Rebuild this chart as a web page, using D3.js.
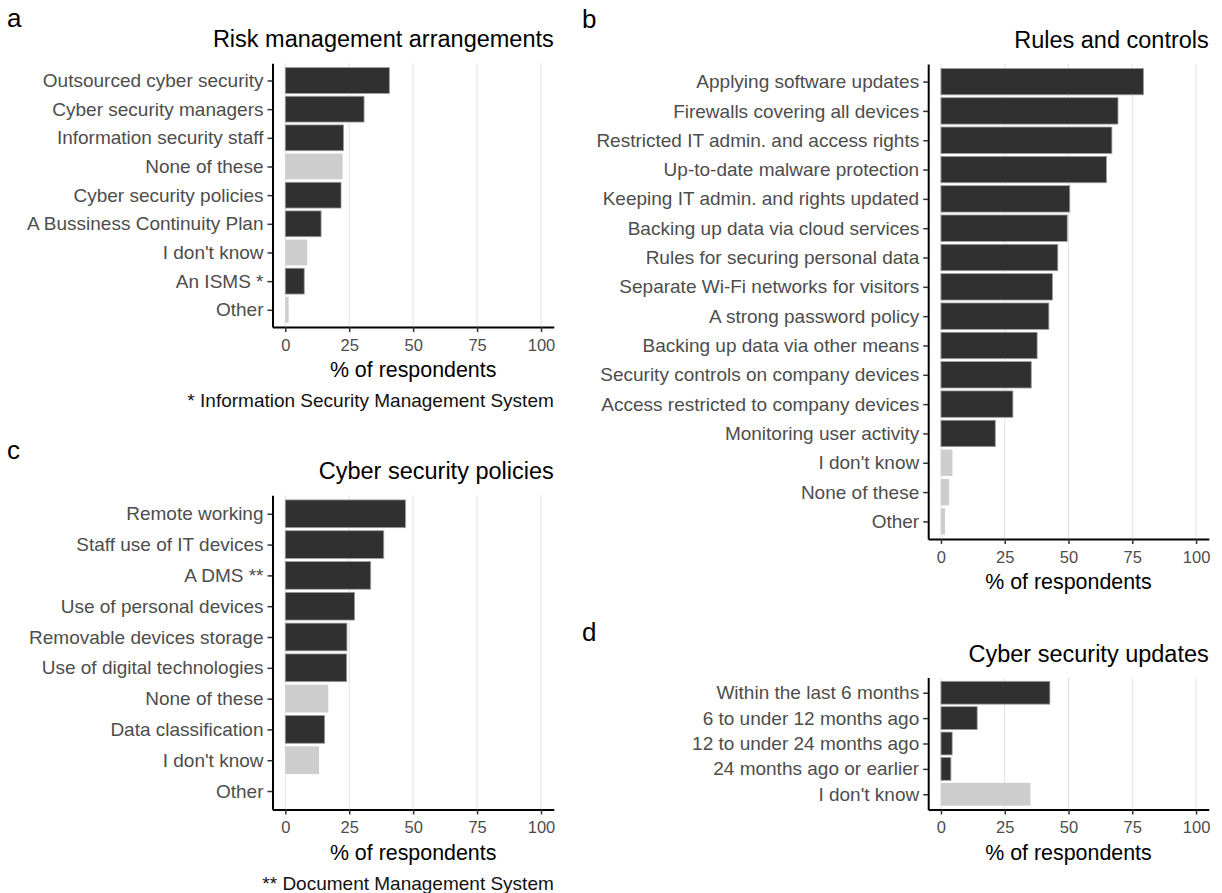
<!DOCTYPE html>
<html>
<head>
<meta charset="utf-8">
<script src="https://cdn.jsdelivr.net/npm/d3@7"></script>
<style>
  body { margin: 0; background: #fff; }
  svg text { font-family: "Liberation Sans", Arial, Helvetica, sans-serif; }
</style>
</head>
<body>
<svg id="chart" width="1222" height="893"></svg>
<script>
// values, % of respondents
const riskCategories = ['Outsourced cyber security', 'Cyber security managers', 'Information security staff',
  'None of these', 'Cyber security policies', 'A Bussiness Continuity Plan', "I don't know", 'An ISMS *', 'Other']
const riskValues = [40.7, 30.8, 22.8, 22.4, 21.8, 14.0, 8.6, 7.4, 1.3]

const rulesCategories = ['Applying software updates', 'Firewalls covering all devices',
  'Restricted IT admin. and access rights', 'Up-to-date malware protection', 'Keeping IT admin. and rights updated',
  'Backing up data via cloud services', 'Rules for securing personal data', 'Separate Wi-Fi networks for visitors',
  'A strong password policy', 'Backing up data via other means', 'Security controls on company devices',
  'Access restricted to company devices', 'Monitoring user activity', "I don't know", 'None of these', 'Other']
const rulesValues = [79.4, 69.4, 67.0, 64.9, 50.5, 49.5, 45.8, 43.7, 42.3, 37.7, 35.4, 28.2, 21.3, 4.5, 3.2, 1.6]

const policyCategories = ['Remote working', 'Staff use of IT devices', 'A DMS **', 'Use of personal devices',
  'Removable devices storage', 'Use of digital technologies', 'None of these', 'Data classification',
  "I don't know", 'Other']
const policyValues = [47.0, 38.5, 33.4, 27.1, 24.1, 24.0, 16.8, 15.4, 13.2, 0]

const updateCategories = ['Within the last 6 months', '6 to under 12 months ago', '12 to under 24 months ago',
  '24 months ago or earlier', "I don't know"]
const updateValues = [42.7, 14.2, 4.4, 3.9, 35.1]

// answers drawn in light grey
const neutralAnswers = ['None of these', "I don't know", 'Other']
const xTicks = [0, 25, 50, 75, 100]

const svg = d3.select('#chart')

const drawPanel = ({tag, title, categories, values, left, right, top, bottom, note}) => {
  const g = svg.append('g')
  const x = d3.scaleLinear().domain([-5, 105]).range([left, right])
  const y = d3.scalePoint().domain(categories).range([top, bottom]).padding(0.6)
  const barH = y.step() * 0.9
  const rows = categories.map((label, i) => ({label, value: values[i]}))

  g.selectAll('line.grid').data(xTicks).join('line')
    .attr('class', 'grid')
    .attr('x1', d => x(d)).attr('x2', d => x(d))
    .attr('y1', top).attr('y2', bottom)
    .attr('stroke', '#e2e2e2').attr('stroke-width', 1)

  g.selectAll('rect.bar').data(rows).join('rect')
    .attr('class', 'bar')
    .attr('x', x(0))
    .attr('y', d => y(d.label) - barH / 2)
    .attr('width', d => x(d.value) - x(0))
    .attr('height', barH)
    .attr('fill', d => neutralAnswers.includes(d.label) ? '#cdcdcd' : '#303030')
    .attr('stroke', d => neutralAnswers.includes(d.label) ? 'none' : '#9e9e9e')
    .attr('stroke-width', 0.8)

  const xAxis = g.append('g').attr('transform', `translate(0,${bottom})`)
    .call(d3.axisBottom(x).tickValues(xTicks).tickSize(5).tickSizeOuter(0).tickPadding(7))
  const yAxis = g.append('g').attr('transform', `translate(${left},0)`)
    .call(d3.axisLeft(y).tickSize(5).tickSizeOuter(0).tickPadding(4))

  ;[xAxis, yAxis].forEach(a => {
    a.attr('font-family', null)
    a.select('.domain').attr('stroke', '#000').attr('stroke-width', 2)
    a.selectAll('.tick line').attr('stroke', '#333').attr('stroke-width', 1.5)
    a.selectAll('.tick text').attr('fill', '#4d4d4d')
  })
  xAxis.attr('font-size', 16.5)
  yAxis.attr('font-size', 19)

  g.append('text')
    .attr('x', (left + right) / 2).attr('y', bottom + 50)
    .attr('text-anchor', 'middle').attr('font-size', 21.4).attr('fill', '#000')
    .text('% of respondents')

  g.append('text')
    .attr('x', right).attr('y', top - 16)
    .attr('text-anchor', 'end').attr('font-size', 23.5).attr('fill', '#000')
    .text(title)

  g.append('text')
    .attr('x', tag.x).attr('y', top - 36.5)
    .attr('font-size', 26).attr('fill', '#000')
    .text(tag.text)

  if (note) {
    g.append('text')
      .attr('x', right).attr('y', bottom + 80)
      .attr('text-anchor', 'end').attr('font-size', 19).attr('fill', '#111')
      .text(note)
  }
}

drawPanel({tag: {text: 'a', x: 7}, title: 'Risk management arrangements', categories: riskCategories,
  values: riskValues, left: 272.5, right: 553.8, top: 63.3, bottom: 327,
  note: '* Information Security Management System'})
drawPanel({tag: {text: 'b', x: 582}, title: 'Rules and controls', categories: rulesCategories,
  values: rulesValues, left: 928.2, right: 1208.8, top: 64, bottom: 539})
drawPanel({tag: {text: 'c', x: 7}, title: 'Cyber security policies', categories: policyCategories,
  values: policyValues, left: 272.5, right: 553.8, top: 495.3, bottom: 809.5,
  note: '** Document Management System'})
drawPanel({tag: {text: 'd', x: 582}, title: 'Cyber security updates', categories: updateCategories,
  values: updateValues, left: 928.2, right: 1208.8, top: 677.5, bottom: 809.5})
</script>
</body>
</html>
